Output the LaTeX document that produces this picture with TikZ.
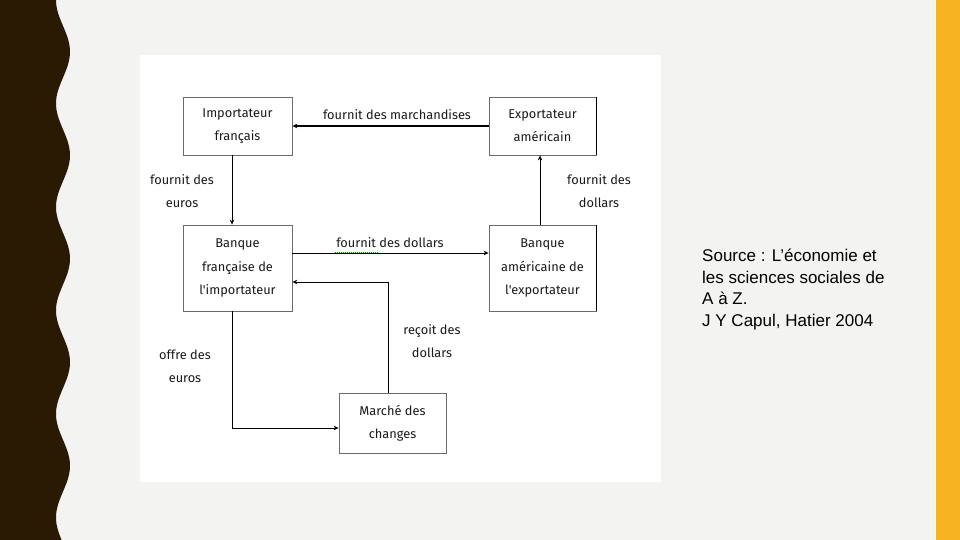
\documentclass[tikz,border=0pt]{standalone}
\usepackage{fontspec}
\setmainfont{Liberation Sans}
\newfontfamily\handfont{Fira Sans}
\usetikzlibrary{arrows.meta}
\definecolor{bgc}{HTML}{F3F3F1}
\definecolor{darkc}{HTML}{2A1A03}
\definecolor{yelc}{HTML}{F8B323}
\definecolor{boxc}{HTML}{6A6A6A}
\definecolor{txtc}{HTML}{1A1A1A}
\tikzset{
  boxn/.style={draw=boxc, line width=0.8pt, fill=white, inner sep=0pt, align=center,
    font=\handfont\fontsize{12.8}{23}\selectfont, text=txtc},
  lab/.style={inner sep=0pt, align=center, font=\handfont\fontsize{12.8}{23}\selectfont, text=txtc},
  arr/.style={draw=black, line width=0.7pt, -{Stealth[length=5pt,width=4.5pt]}},
}
\begin{document}
\begin{tikzpicture}[x=1pt,y=-1pt]
\useasboundingbox (0,0) rectangle (960,540);
\fill[bgc] (0,0) rectangle (960,540);
% wavy dark border
\fill[darkc] (0,0) -- plot[domain=0:540,samples=200,smooth] ({63-7*cos(3.4783*\x)},\x) -- (0,540) -- cycle;
% yellow strip
\fill[yellow!20] (934.5,0) rectangle (936.5,540);
\fill[yelc] (936,0) rectangle (960,540);
% white panel
\fill[white] (140,55) rectangle (661,482);
% boxes
\node[boxn, minimum width=109, minimum height=58] (imp) at (237.5,126) {Importateur\\fran\c{c}ais};
\node[boxn, minimum width=107, minimum height=58] (exp) at (542.5,126) {Exportateur\\am\'ericain};
\node[boxn, minimum width=109, minimum height=86, font=\handfont\fontsize{12.8}{23.5}\selectfont] (bfr) at (237.5,268) {Banque\\fran\c{c}aise de\\l'importateur};
\node[boxn, minimum width=107, minimum height=86, font=\handfont\fontsize{12.8}{23.5}\selectfont] (bam) at (542.5,268) {Banque\\am\'ericaine de\\l'exportateur};
\node[boxn, minimum width=107, minimum height=60] (mar) at (392.5,423) {March\'e des\\changes};
% thick right edges
\draw[black, line width=1.6pt] (exp.north east) -- (exp.south east);
\draw[black, line width=1.6pt] (bam.north east) -- (bam.south east);
% connectors
\draw[arr, line width=1.3pt] (exp.west) -- (imp.east);
\draw[arr] ([xshift=-5.5]imp.south) -- ([xshift=-5.5]bfr.north);
\draw[arr] ([xshift=-2.5]bam.north) -- ([xshift=-2.5]exp.south);
\draw[arr] ([yshift=15]bfr.east) -- ([yshift=15]bam.west);
\draw[arr] ([xshift=-4.5]mar.north) |- ([yshift=-14]bfr.east);
\draw[arr] ([xshift=-5.5]bfr.south) |- ([yshift=-5]mar.west);
% labels
\node[lab] (l1) at (397,115) {fournit des marchandises};
\node[lab] (l2) at (182,191) {fournit des\\euros};
\node[lab] (l3) at (599,191) {fournit des\\dollars};
\node[lab] (l4) at (390,243) {fournit des dollars};
\node[lab] (l5) at (185,366) {offre des\\euros};
\node[lab] (l6) at (432,341) {re\c{c}oit des\\dollars};
\draw[green!60!black, line width=0.6pt, dash pattern=on 1pt off 1pt] (334.5,252.5) -- (377,252.5);
% source
\node[anchor=north west, inner sep=0pt, align=left, font=\fontsize{17}{21.6}\selectfont, text=black] (src) at (702,249)
  {Source : L’économie et\\les sciences sociales de\\A à Z.\\J Y Capul, Hatier 2004};
\end{tikzpicture}
\end{document}
